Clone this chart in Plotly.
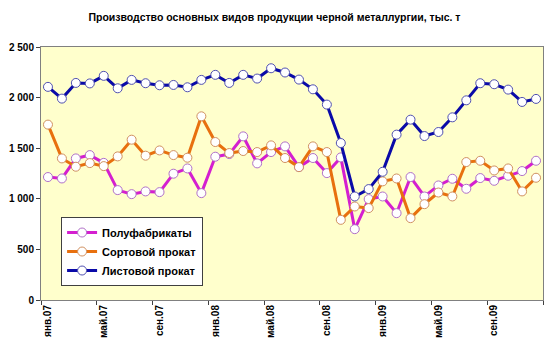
import plotly.graph_objects as go

months = ["янв", "фев", "мар", "апр", "май", "июн", "июл", "авг", "сен", "окт", "ноя", "дек"]
years = ["07", "08", "09"]
categories = [f"{m}.{y}" for y in years for m in months]

polufabrikaty = [1215, 1201, 1399, 1432, 1355, 1086, 1046, 1073, 1066, 1248, 1300, 1056,
                 1416, 1442, 1617, 1350, 1462, 1518, 1313, 1403, 1254, 1409, 700, 997,
                 1023, 858, 1215, 1023, 1132, 1198, 1099, 1205, 1178, 1228, 1274, 1376]
sortovoy = [1733, 1399, 1317, 1353, 1323, 1419, 1584, 1426, 1478, 1432, 1406, 1815,
            1561, 1452, 1472, 1462, 1528, 1403, 1313, 1518, 1462, 792, 924, 908,
            1172, 1201, 809, 947, 1062, 1023, 1363, 1376, 1280, 1300, 1073, 1208]
listovoy = [2106, 1990, 2145, 2140, 2215, 2092, 2175, 2142, 2122, 2125, 2102, 2175,
            2225, 2145, 2225, 2188, 2290, 2248, 2178, 2082, 1931, 1551, 1023, 1096,
            1267, 1634, 1782, 1620, 1660, 1805, 1973, 2142, 2132, 2079, 1957, 1987]

series_names = ["Полуфабрикаты", "Сортовой прокат", "Листовой прокат"]
series_values = [polufabrikaty, sortovoy, listovoy]
series_colors = ["#D41FD0", "#E8700E", "#0A0AA8"]
marker_lines = ["#B070C8", "#D09060", "#5050B0"]

y_tickvals = [0, 500, 1000, 1500, 2000, 2500]
y_ticktext = ["0", "500", "1 000", "1 500", "2 000", "2 500"]

x_idx = list(range(len(categories)))
x_label_idx = x_idx[::4]
x_labels = [categories[i] for i in x_label_idx]

fig = go.Figure()
for name, vals, col, mcol in zip(series_names, series_values, series_colors, marker_lines):
    fig.add_trace(go.Scatter(
        x=x_idx, y=vals, name=f"<b>{name}</b>", mode="lines+markers",
        line=dict(color=col, width=3),
        marker=dict(size=9, color="white", line=dict(color=mcol, width=1)),
    ))

font_family = "Liberation Sans, Arial, sans-serif"
fig.update_layout(
    width=549, height=354,
    margin=dict(l=41, r=6, t=47, b=54),
    paper_bgcolor="white",
    plot_bgcolor="#FFFFCC",
    font=dict(family=font_family, size=10, color="black"),
    title=dict(text="<b>Производство основных видов продукции черной металлургии, тыс. т</b>",
               x=0.5, xanchor="center", y=1 - 17 / 354, yanchor="middle",
               font=dict(size=10.5, family=font_family)),
    showlegend=True,
    legend=dict(x=0.04, y=0.328, xanchor="left", yanchor="top",
                bgcolor="white", bordercolor="#404040", borderwidth=1,
                font=dict(size=11, family=font_family),
                traceorder="normal"),
    xaxis=dict(
        range=[-0.5, 35.5], showgrid=False, zeroline=False,
        tickmode="array", tickvals=x_label_idx,
        ticktext=[f"<b>{t}</b>" for t in x_labels],
        tickangle=-90, ticks="", ticklen=0,
        tickfont=dict(size=10, family=font_family),
        showline=True, linecolor="#808080", linewidth=1, mirror=True,
        minor=dict(tickmode="array", tickvals=[-0.5 + 4 * k for k in range(10)],
                   ticks="outside", ticklen=4, tickcolor="#404040", showgrid=False),
    ),
    yaxis=dict(
        range=[0, 2500], showgrid=False, zeroline=False,
        tickmode="array", tickvals=y_tickvals,
        ticktext=[f"<b>{t}</b>" for t in y_ticktext],
        ticks="outside", ticklen=4, tickcolor="#404040",
        tickfont=dict(size=10, family=font_family),
        showline=True, linecolor="#808080", linewidth=1, mirror=True,
    ),
)

fig.write_html("out.html")
